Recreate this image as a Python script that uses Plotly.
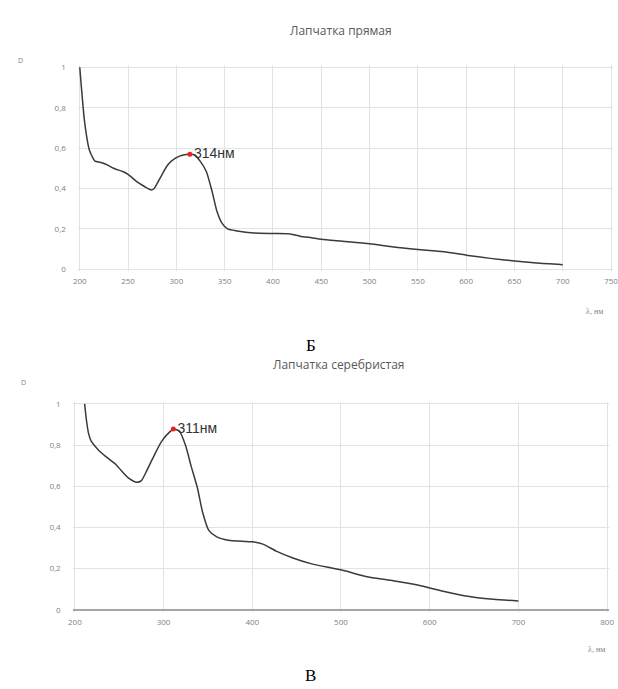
import plotly.graph_objects as go

# --- Data: Лапчатка прямая ---
wl_a = [200, 205, 210, 215.7, 221, 227, 235, 245, 250, 259, 267, 274, 277, 283, 291, 299, 307, 314,
        319, 325, 331, 337, 342, 347, 353, 363, 380, 400, 418, 428, 440, 450, 472, 500, 525, 550,
        577, 600, 625, 650, 673, 700]
d_a = [1.0, 0.73, 0.59, 0.536, 0.53, 0.52, 0.50, 0.483, 0.47, 0.434, 0.41, 0.393, 0.40, 0.45, 0.516,
       0.55, 0.566, 0.57, 0.566, 0.533, 0.484, 0.385, 0.287, 0.23, 0.20, 0.19, 0.18, 0.177, 0.175,
       0.164, 0.156, 0.149, 0.139, 0.126, 0.11, 0.098, 0.087, 0.07, 0.054, 0.041, 0.031, 0.023]
peak_a = (314, 0.57)
label_a = "314нм"

# --- Data: Лапчатка серебристая ---
wl_b = [211, 213, 215.3, 218.4, 226, 235, 246, 252.5, 261, 270, 275, 281, 290, 298, 307, 311.5, 318,
        325, 331, 338, 344, 351, 360, 373, 400, 412, 427, 445, 467, 500, 528, 559, 585, 600, 624,
        650, 672, 700]
d_b = [1.0, 0.923, 0.859, 0.819, 0.779, 0.744, 0.707, 0.675, 0.638, 0.619, 0.627, 0.675, 0.755,
       0.819, 0.864, 0.878, 0.867, 0.795, 0.699, 0.595, 0.474, 0.386, 0.354, 0.338, 0.33, 0.319,
       0.285, 0.253, 0.223, 0.194, 0.162, 0.141, 0.122, 0.106, 0.082, 0.061, 0.051, 0.043]
peak_b = (311, 0.878)
label_b = "311нм"

title_a = "Лапчатка прямая"
title_b = "Лапчатка серебристая"
y_ticks = [0, 0.2, 0.4, 0.6, 0.8, 1]
x_ticks_a = [200, 250, 300, 350, 400, 450, 500, 550, 600, 650, 700, 750]
x_ticks_b = [200, 300, 400, 500, 600, 700, 800]

W, H = 618, 689
LINE = "#3a3a3a"
GRID = "#e2e2e2"
TICKC = "#7f7f7f"
FONT = "Open Sans"

def px(x):
    return x / W

def py(y):
    return 1 - y / H

fig = go.Figure()
fig.add_trace(go.Scatter(x=wl_a, y=d_a, mode="lines", line=dict(color=LINE, width=1.5, shape="spline", smoothing=0.6),
                         xaxis="x", yaxis="y", showlegend=False, hoverinfo="skip"))
fig.add_trace(go.Scatter(x=[peak_a[0]], y=[peak_a[1]], mode="markers+text", text=[label_a],
                         textposition="middle right", textfont=dict(family="Liberation Sans", size=14, color="#333333"),
                         marker=dict(color="#e8222a", size=5), xaxis="x", yaxis="y", showlegend=False, cliponaxis=False))
fig.add_trace(go.Scatter(x=wl_b, y=d_b, mode="lines", line=dict(color=LINE, width=1.5, shape="spline", smoothing=0.6),
                         xaxis="x2", yaxis="y2", showlegend=False, hoverinfo="skip"))
fig.add_trace(go.Scatter(x=[peak_b[0]], y=[peak_b[1]], mode="markers+text", text=[label_b],
                         textposition="middle right", textfont=dict(family="Liberation Sans", size=14, color="#333333"),
                         marker=dict(color="#e8222a", size=5), xaxis="x2", yaxis="y2", showlegend=False, cliponaxis=False))

axis_common = dict(showgrid=True, gridcolor=GRID, gridwidth=1, showline=False,
                   tickfont=dict(family=FONT, size=8, color=TICKC), ticks="", fixedrange=True,
                   ticklabeloverflow="allow")

fig.update_layout(
    width=W, height=H, margin=dict(l=0, r=0, t=0, b=0),
    paper_bgcolor="white", plot_bgcolor="white",
    separators=", ",
    xaxis=dict(domain=[px(74.04), px(617.96)], range=[198, 752], tickvals=x_ticks_a, anchor="y",
               zeroline=False, ticklabelstandoff=4, **axis_common),
    yaxis=dict(domain=[py(270.04), py(61.96)], range=[-0.01, 1.01], tickvals=y_ticks, anchor="x",
               zeroline=False, ticklabelstandoff=11, **axis_common),
    xaxis2=dict(domain=[px(68.75), px(614.25)], range=[197.5, 802.5], tickvals=x_ticks_b, anchor="y2",
                zeroline=False, ticklabelstandoff=4, **axis_common),
    yaxis2=dict(domain=[py(614.08), py(401.92)], range=[-0.01, 1.01], tickvals=y_ticks, anchor="x2",
                zeroline=True, zerolinecolor="#a6a6a6", zerolinewidth=2, ticklabelstandoff=11, **axis_common),
)

ann = []
def text(x, y, s, size, color, family, xanchor="center"):
    ann.append(dict(x=px(x), y=py(y), xref="paper", yref="paper", text=s, showarrow=False,
                    font=dict(size=size, color=color, family=family), xanchor=xanchor, yanchor="middle"))

text(342, 27, title_a, 12, "#595959", FONT)
text(16, 57, "D", 7, TICKC, FONT)
text(599, 311, "λ, нм", 8, TICKC, "Liberation Serif")
text(311, 345, "Б", 17, "#000000", "Liberation Serif")

text(340, 364, title_b, 12, "#595959", FONT)
text(19, 382, "D", 7, TICKC, FONT)
text(601, 652, "λ, нм", 8, TICKC, "Liberation Serif")
text(311, 678, "В", 17, "#000000", "Liberation Serif")

fig.update_layout(annotations=ann)
fig.write_html("out.html")
